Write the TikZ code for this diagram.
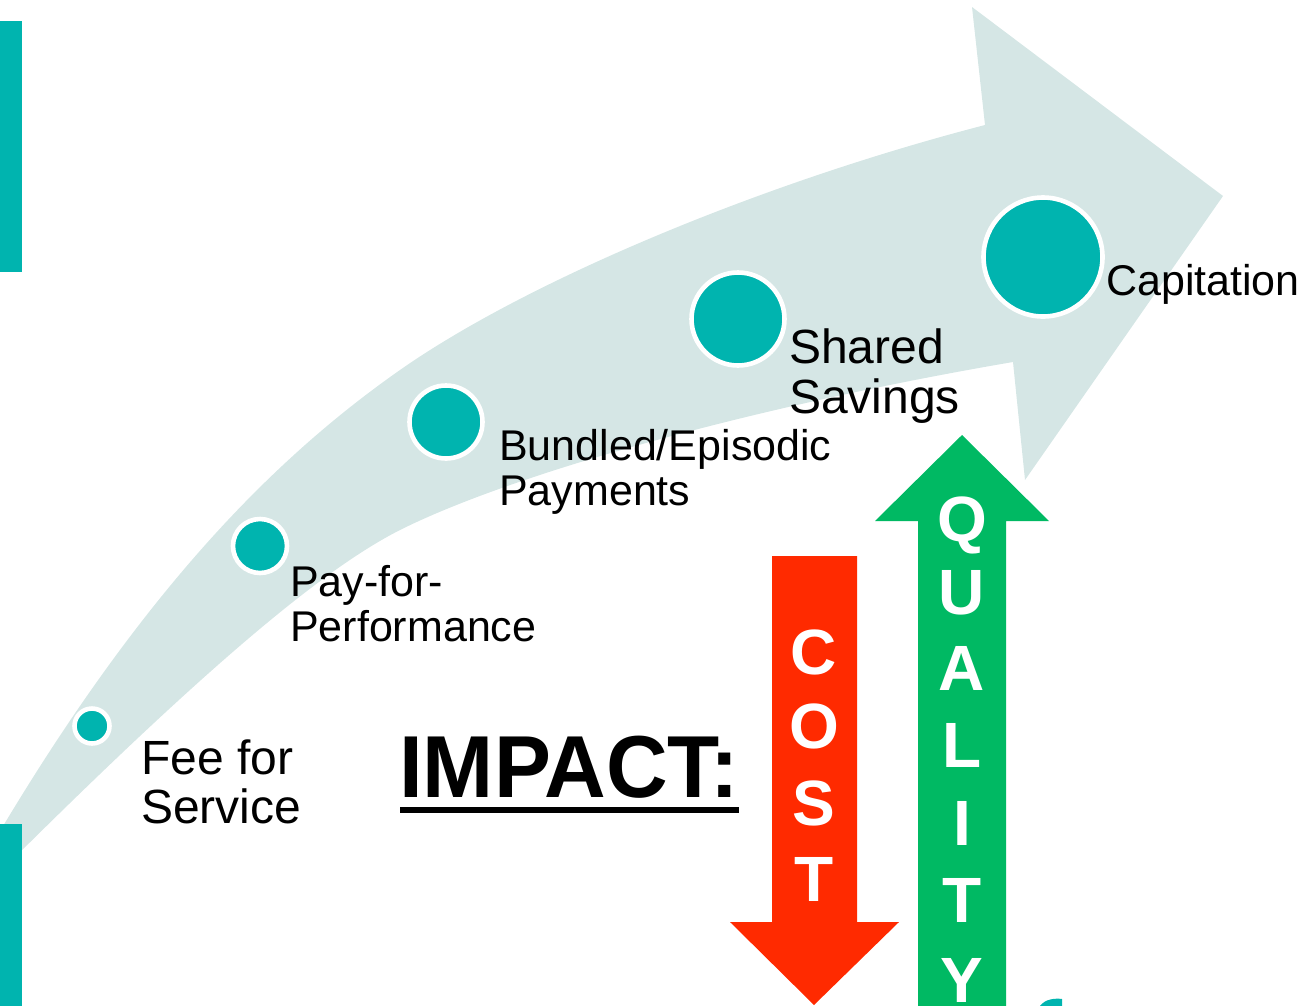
\documentclass[tikz,border=0pt]{standalone}
\usepackage{fontspec}
\usepackage{graphicx}
\setmainfont{Liberation Sans}
\usetikzlibrary{calc}
\definecolor{tealmark}{HTML}{00B4AF}
\definecolor{banddust}{HTML}{D5E6E5}
\definecolor{costred}{HTML}{FF2A00}
\definecolor{qualgreen}{HTML}{00B963}

\begin{document}
\begin{tikzpicture}[x=1pt,y=-1pt,
  dot/.style={circle, fill=tealmark, draw=white, line width=4.6pt, inner sep=0pt},
  stagetext/.style={anchor=base west, inner sep=0pt, text=black},
  bigstage/.style={stagetext, font=\fontsize{48}{50}\selectfont},
  smallstage/.style={stagetext, font=\fontsize{43}{45}\selectfont},
  arrowletter/.style={anchor=base, inner sep=0pt, text=white, font=\bfseries\fontsize{64}{64}\selectfont}
]
\path[use as bounding box] (0,0) rectangle (1312,1005);
\clip (0,0) rectangle (1312,1005);

% curved progression arrow
\fill[banddust]
  (-10,848) .. controls (130,610) and (260,468) .. (400,370)
            .. controls (527,281) and (761,183) .. (985,125)
  -- (972,7) -- (1223,196) -- (1025,480) -- (1013,362)
            .. controls (761,405) and (516,472) .. (400,530)
            .. controls (319,571) and (196,676) .. (-10,882)
  -- cycle;

% side bars
\fill[tealmark] (0,21) rectangle (22,272);
\fill[tealmark] (0,824) rectangle (22,1010);

% payment model stages
\node[dot, minimum size=35pt]  (fee)  at (92,726)  {};
\node[dot, minimum size=54pt]  (pay)  at (260,546) {};
\node[dot, minimum size=73pt]  (bun)  at (446,422) {};
\node[dot, minimum size=93pt]  (sha)  at (738,319) {};
\node[dot, minimum size=119pt] (cap)  at (1043,257) {};

\node[bigstage]   (feeA) at (141,774) {Fee for};
\node[bigstage]   (feeB) at (141,823) {Service};
\node[smallstage] (payA) at (290,596) {Pay-for-};
\node[smallstage] (payB) at (290,641) {Performance};
\node[smallstage] (bunA) at (499,460) {Bundled/Episodic};
\node[smallstage] (bunB) at (499,505) {Payments};
\node[bigstage]   (shaA) at (789,363) {Shared};
\node[bigstage]   (shaB) at (789,413) {Savings};
\node[smallstage] (capA) at (1106,295) {Capitation};

% impact heading
\node[anchor=base west, inner sep=0pt] (impact) at (399,797)
  {\scalebox{0.97}[1]{\fontsize{88}{88}\selectfont\bfseries IMPACT:}};
\fill ($(impact.base west)+(1,10)$) rectangle ($(impact.base west)+(340,16)$);

% cost goes down
\fill[costred] (772,556) -- (857,556) -- (857,922) -- (899,922) -- (814,1005)
  -- (730,922) -- (772,922) -- cycle;
\foreach \ch/\yy [count=\i] in {C/674, O/748, S/825, T/901}
  \node[arrowletter] (cost\i) at (814,\yy) {\ch};

% quality goes up
\fill[qualgreen] (918,1012) -- (918,521) -- (875,521) -- (962,435) -- (1049,521)
  -- (1006,521) -- (1006,1012) -- cycle;
\foreach \ch/\yy [count=\i] in {Q/541, U/614, A/690, L/767, I/845, T/922, Y/1002}
  \node[arrowletter] (qual\i) at (962,\yy) {\ch};

% corner fragment
\fill[tealmark] (1040,1006) .. controls (1045,999) and (1055,998) .. (1062,999) -- (1062,1006) -- cycle;
\end{tikzpicture}
\end{document}
